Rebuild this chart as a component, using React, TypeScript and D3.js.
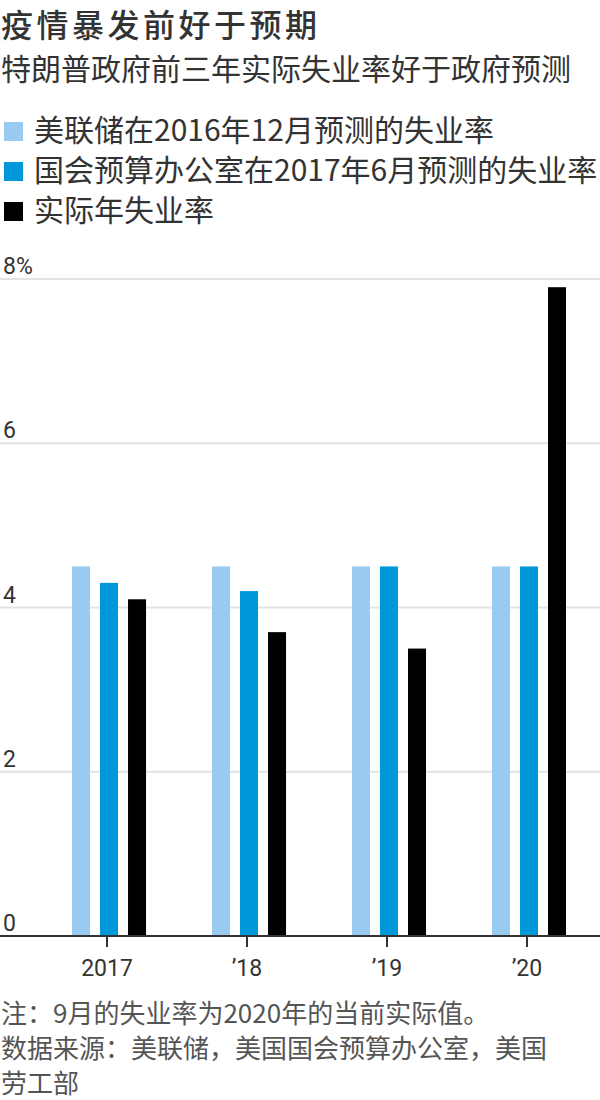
import React from 'react';
import * as d3 from 'd3';

const years = ['2017', '2018', '2019', '2020'];
const yearLabels = ['2017', '\u201918', '\u201919', '\u201920'];
const seriesKeys = ['fed', 'cbo', 'actual'];
const seriesNames = [
  '美联储在2016年12月预测的失业率',
  '国会预算办公室在2017年6月预测的失业率',
  '实际年失业率',
];
const seriesColors = ['#98cbef', '#0098da', '#000000'];
const fedForecast = [4.5, 4.5, 4.5, 4.5];
const cboForecast = [4.3, 4.2, 4.5, 4.5];
const actualRate = [4.1, 3.7, 3.5, 7.9];
const yTicks = [0, 2, 4, 6, 8];

const title = '疫情暴发前好于预期';
const subtitle = '特朗普政府前三年实际失业率好于政府预测';
const notes = [
  '注：9月的失业率为2020年的当前实际值。',
  '数据来源：美联储，美国国会预算办公室，美国',
  '劳工部',
];

const W = 600;
const H = 1100;
const CJK = "'Noto Sans CJK SC', 'Noto Sans', sans-serif";
const NUM = "'Liberation Sans Narrow', 'Roboto', 'Noto Sans', sans-serif";

export default function App() {
  const values = [fedForecast, cboForecast, actualRate];
  const y = d3.scaleLinear().domain([0, 8]).range([936, 279]);
  const x0 = d3.scaleBand<string>().domain(years).range([39, 599]).paddingInner(0.471).paddingOuter(0.2357);
  const x1 = d3.scaleBand<string>().domain(seriesKeys).range([0, x0.bandwidth()]).paddingInner(0.357).paddingOuter(0);

  return (
    <div style={{ position: 'absolute', left: 0, top: 0, width: W, height: H, background: '#fff' }}>
      <svg width={W} height={H} style={{ display: 'block' }}>
        <text x={1} y={37} fontFamily={CJK} fontSize={32} fontWeight={500} letterSpacing={3.5} fill="#333">{title}</text>
        <text x={1} y={80} fontFamily={CJK} fontSize={30} fill="#333">{subtitle}</text>

        {seriesNames.map((name, i) => (
          <g key={name} transform={`translate(0, ${122 + i * 40})`}>
            <rect x={4} y={0} width={19} height={19} fill={seriesColors[i]} />
            <text x={34} y={19} fontFamily={CJK} fontSize={30} fill="#333">{name}</text>
          </g>
        ))}

        {yTicks.map((t) => (
          <g key={t}>
            {t !== 0 && (
              <line x1={0} x2={W} y1={y(t)} y2={y(t)} stroke="#e3e3e3" strokeWidth={2} />
            )}
            <text x={3} y={y(t) - 5} fontFamily={NUM} fontSize={23} fill="#333">
              {t === 8 ? `${t}%` : `${t}`}
            </text>
          </g>
        ))}

        {years.map((yr, gi) => (
          <g key={yr} transform={`translate(${x0(yr)}, 0)`}>
            {seriesKeys.map((k, si) => {
              const v = values[si][gi];
              return (
                <rect
                  key={k}
                  x={x1(k)}
                  y={y(v)}
                  width={x1.bandwidth()}
                  height={y(0) - y(v)}
                  fill={seriesColors[si]}
                />
              );
            })}
          </g>
        ))}

        <line x1={0} x2={W} y1={y(0)} y2={y(0)} stroke="#333" strokeWidth={2} />
        {years.map((yr, gi) => {
          const cx = (x0(yr) as number) + x0.bandwidth() / 2 - 2;
          return (
            <g key={yr}>
              <line x1={cx} x2={cx} y1={y(0)} y2={y(0) + 11} stroke="#333" strokeWidth={2} />
              <text x={cx} y={976} textAnchor="middle" fontFamily={NUM} fontSize={23} fill="#333">
                {yearLabels[gi]}
              </text>
            </g>
          );
        })}

        {notes.map((n, i) => (
          <text key={i} x={1} y={1023 + i * 35} fontFamily={CJK} fontSize={26} fill="#555">{n}</text>
        ))}
      </svg>
    </div>
  );
}
